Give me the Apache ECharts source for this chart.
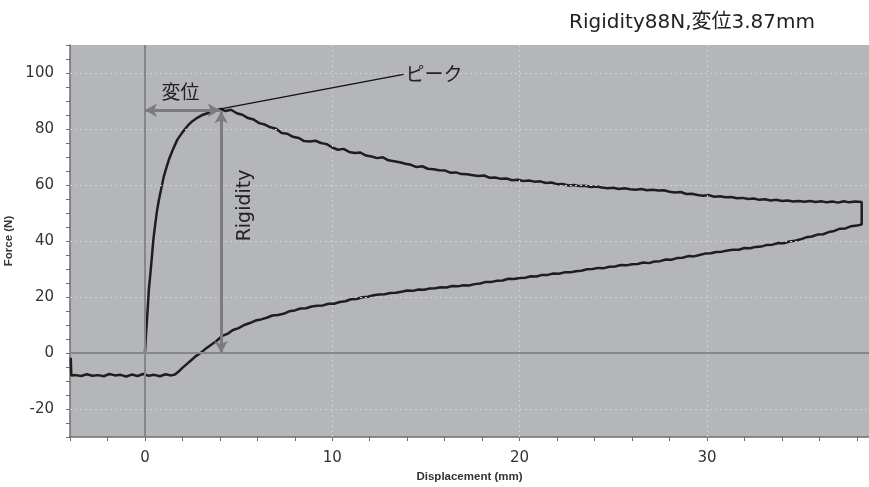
<!DOCTYPE html>
<html>
<head>
<meta charset="utf-8">
<script src="https://cdn.jsdelivr.net/npm/echarts@6/dist/echarts.min.js"></script>
<style>
html,body{margin:0;padding:0;background:#fff;}
#chart{width:869px;height:487px;}
</style>
</head>
<body>
<div id="chart"></div>
<script>
// ---- data (Displacement mm, Force N) ----
const risingCurve = [
  [0,0],[0.05,6],[0.1,11],[0.15,16],[0.21,22.7],[0.3,29],[0.38,35],[0.45,40.5],[0.55,46],[0.65,51],
  [0.75,54.8],[0.88,59],[1.01,63.1],[1.15,66.3],[1.28,69.1],[1.5,72.8],[1.73,76.2],[2.0,78.8],[2.26,81],
  [2.5,82.6],[2.79,84],[3.1,85.1],[3.5,86],[3.8,86.6],[4.04,87.2]
];
const descendingCurve = [
  [4.3,86.4],[4.6,86.9],[4.9,85.6],[5.2,85.1],[5.5,83.9],[5.8,83.4],[6.1,82.1],[6.4,81.6],[6.7,80.6],[7.0,80.1],
  [7.3,78.6],[7.6,78.3],[7.9,77.2],[8.2,76.8],[8.5,75.7],[8.8,75.5],[9.1,75.8],[9.4,75.0],[9.7,74.6],[10.0,73.4],
  [10.3,72.6],[10.6,72.9],[10.9,71.8],[11.2,71.4],[11.5,71.6],[11.8,70.5],[12.1,70.2],[12.4,69.6],[12.7,69.9],[13.0,68.8],
  [13.3,68.5],[13.6,68.1],[13.9,67.6],[14.2,67.2],[14.5,66.4],[14.8,66.7],[15.1,65.8],[15.4,65.6],[15.7,65.3],[16.0,65.2],
  [16.3,64.4],[16.6,64.5],[16.9,63.9],[17.2,63.8],[17.5,63.5],[17.8,63.2],[18.1,63.4],[18.4,62.6],[18.7,62.7],[19.0,62.2],
  [19.3,62.3],[19.6,61.7],[19.9,61.9],[20.2,61.4],[20.5,61.6],[20.8,61.2],[21.1,61.3],[21.4,60.7],[21.7,60.9],[22.0,60.3],
  [22.3,60.4],[22.6,59.8],[22.9,60.0],[23.2,59.6],[23.5,59.7],[23.8,59.3],[24.1,59.5],[24.4,59.1],[24.7,58.8],[25.0,59.0],
  [25.3,58.6],[25.6,58.8],[25.9,58.5],[26.2,58.3],[26.5,58.6],[26.8,58.1],[27.1,58.3],[27.4,58.0],[27.7,58.1],[28.0,57.6],
  [28.3,57.3],[28.6,57.5],[28.9,56.8],[29.2,56.9],[29.5,56.4],[29.8,56.2],[30.1,56.4],[30.4,55.8],[30.7,56.0],[31.0,55.6],
  [31.3,55.7],[31.6,55.3],[31.9,55.4],[32.2,55.0],[32.5,55.2],[32.8,54.7],[33.1,54.9],[33.4,54.5],[33.7,54.7],[34.0,54.3],
  [34.3,54.5],[34.6,54.1],[34.9,54.3],[35.2,54.0],[35.5,54.3],[35.8,53.9],[36.1,54.2],[36.4,53.8],[36.7,54.1],[37.0,53.7],
  [37.3,54.2],[37.6,53.8],[37.9,54.1],[38.26,53.9]
];
const returnCurve = [
  [38.26,45.9],[38.0,45.5],[37.7,45.3],[37.4,44.5],[37.1,44.4],[36.8,43.6],[36.5,43.2],[36.2,42.4],[35.9,42.3],[35.6,41.6],
  [35.3,41.3],[35.0,40.6],[34.7,40.1],[34.4,39.8],[34.1,39.2],[33.8,39.3],[33.5,38.7],[33.2,38.6],[32.9,38.0],[32.6,37.9],
  [32.3,37.4],[32.0,37.5],[31.7,36.9],[31.4,36.9],[31.1,36.6],[30.8,36.2],[30.5,36.1],[30.2,35.6],[29.9,35.5],[29.6,35.0],
  [29.3,34.5],[29.0,34.6],[28.7,34.0],[28.4,33.9],[28.1,33.3],[27.8,33.4],[27.5,32.8],[27.2,32.7],[26.9,32.1],[26.6,32.3],
  [26.3,31.8],[26.0,31.7],[25.7,31.3],[25.4,31.4],[25.1,30.9],[24.8,30.8],[24.5,30.3],[24.2,30.4],[23.9,30.0],[23.6,29.9],
  [23.3,29.4],[23.0,29.2],[22.7,28.8],[22.4,28.8],[22.1,28.3],[21.8,28.4],[21.5,27.9],[21.2,27.9],[20.9,27.3],[20.6,27.4],
  [20.3,26.9],[20.0,26.8],[19.7,26.4],[19.4,26.5],[19.1,25.9],[18.8,25.8],[18.5,25.4],[18.2,25.4],[17.9,24.8],[17.6,24.6],
  [17.3,24.1],[17.0,24.2],[16.7,23.8],[16.4,23.9],[16.1,23.4],[15.8,23.5],[15.5,23.1],[15.2,23.0],[14.9,22.6],[14.6,22.7],
  [14.3,22.2],[14.0,22.3],[13.7,21.9],[13.4,21.5],[13.1,21.4],[12.8,21.0],[12.5,20.9],[12.2,20.6],[11.9,20.1],[11.6,19.9],
  [11.3,19.3],[11.0,19.2],[10.7,18.5],[10.4,18.2],[10.1,17.6],[9.8,17.6],[9.5,17.0],[9.2,16.9],[8.9,16.6],[8.6,16.0],
  [8.3,15.9],[8.0,15.2],[7.7,14.9],[7.4,14.0],[7.1,13.6],[6.8,13.4],[6.5,12.6],[6.2,12.0],[5.9,11.6],[5.6,10.7],
  [5.3,10.0],[5.0,8.9],[4.7,8.2],[4.4,6.8],[4.1,6.0],[3.8,4.2],[3.5,2.8],[3.2,1.3],[2.97,0.0],[2.7,-1.2],
  [2.5,-2.4],[2.26,-3.8],[2.0,-5.3],[1.8,-6.6],[1.6,-7.7],[1.4,-8.0],[1.1,-7.6],[0.8,-8.3],[0.5,-7.8],[0.2,-8.1],
  [-0.1,-7.5],[-0.4,-8.2],[-0.7,-7.7],[-1.0,-8.4],[-1.3,-7.8],[-1.6,-8.0],[-1.9,-7.5],[-2.2,-8.3],[-2.5,-7.9],[-2.8,-8.1],
  [-3.1,-7.6],[-3.4,-8.2],[-3.7,-7.9],[-3.93,-8.0],[-3.96,-1.7]
];
const xLabelValues = [0, 10, 20, 30];
const yLabelValues = [-20, 0, 20, 40, 60, 80, 100];
const xGridValues = [10, 20, 30];
const yGridValues = [-20, 20, 40, 60, 80, 100];
// annotations
const peakPoint = [4.04, 87.2];
const peakLabelEnd = [13.8, 99.5];
const dispArrow = [[0, 86.7], [4.0, 86.7]];
const rigidityArrow = [[4.07, 86.3], [4.07, 0]];
const dispTextAt = [1.9, 93.4];
const rigidityTextAt = [5.35, 52.7];
const titleText = 'Rigidity88N,変位3.87mm';

const forceCurve = risingCurve.concat(descendingCurve, returnCurve);

const chart = echarts.init(document.getElementById('chart'), null, {renderer: 'canvas'});
const axisColor = '#6e6e6e';
const option = {
  animation: false,
  backgroundColor: '#ffffff',
  title: {
    text: titleText, right: 49, top: 8,
    textStyle: {fontSize: 20, fontWeight: 'normal', color: '#222', fontFamily: 'DejaVu Sans, Noto Sans CJK JP, sans-serif'}
  },
  grid: {left: 70, right: 0, top: 45, bottom: 50, show: true, backgroundColor: '#b5b6ba', borderWidth: 0,
    containLabel: false, outerBoundsMode: 'none'},
  xAxis: {
    type: 'value', min: -4, max: 38.65, interval: 2,
    name: 'Displacement (mm)', nameLocation: 'middle', nameGap: 33,
    nameTextStyle: {fontSize: 11.5, fontWeight: 'bold', color: '#333', fontFamily: 'Liberation Sans, Arial, sans-serif'},
    axisLine: {show: true, onZero: false, lineStyle: {color: axisColor, width: 1.5}},
    axisTick: {show: true, length: 4, lineStyle: {color: axisColor}},
    axisLabel: {margin: 14, fontSize: 15, color: '#333', fontFamily: 'DejaVu Sans, sans-serif',
      formatter: v => xLabelValues.indexOf(Math.round(v * 100) / 100) >= 0 ? String(v) : ''},
    splitLine: {show: false}
  },
  yAxis: {
    type: 'value', min: -30, max: 110, interval: 5,
    name: 'Force (N)', nameLocation: 'middle', nameGap: 50,
    nameTextStyle: {fontSize: 11.5, fontWeight: 'bold', color: '#333', fontFamily: 'Liberation Sans, Arial, sans-serif'},
    axisLine: {show: true, onZero: false, lineStyle: {color: axisColor, width: 1.5}},
    axisTick: {show: true, length: 4, lineStyle: {color: axisColor}},
    axisLabel: {margin: 16, fontSize: 15, color: '#333', fontFamily: 'DejaVu Sans, sans-serif',
      formatter: v => yLabelValues.indexOf(Math.round(v * 100) / 100) >= 0 ? String(v) : ''},
    splitLine: {show: false}
  },
  series: [
    {
      name: 'grid', type: 'line', data: [], z: 1, silent: true,
      markLine: {
        silent: true, symbol: 'none', label: {show: false}, animation: false,
        lineStyle: {color: '#cfd0d3', type: [2, 3], width: 1},
        data: xGridValues.map(v => ({xAxis: v})).concat(yGridValues.map(v => ({yAxis: v})))
      }
    },
    {
      name: 'zero', type: 'line', data: [], z: 2, silent: true,
      markLine: {
        silent: true, symbol: 'none', label: {show: false}, animation: false,
        lineStyle: {color: '#86878a', type: 'solid', width: 2},
        data: [{xAxis: 0}, {yAxis: 0}]
      }
    },
    {
      name: 'Force', type: 'line', data: forceCurve, showSymbol: false, z: 3,
      lineStyle: {color: '#1e1e1e', width: 2.5}, silent: true
    },
    {
      name: 'annot', type: 'line', data: [], z: 4, silent: true,
      markLine: {
        silent: true, animation: false, precision: 3,
        data: [
          [{coord: dispArrow[0], symbol: 'arrow', symbolSize: [10, 12], lineStyle: {color: '#7c7c7e', width: 3, type: 'solid'}, label: {show: false}},
           {coord: dispArrow[1], symbol: 'arrow', symbolSize: [10, 12]}],
          [{coord: rigidityArrow[0], symbol: 'arrow', symbolSize: [10, 12], lineStyle: {color: '#7c7c7e', width: 3, type: 'solid'}, label: {show: false}},
           {coord: rigidityArrow[1], symbol: 'arrow', symbolSize: [10, 12]}],
          [{coord: peakPoint, symbol: 'none', lineStyle: {color: '#111', width: 1.3, type: 'solid'},
            label: {show: true, position: 'end', formatter: 'ピーク', distance: 2, fontSize: 19, color: '#222',
              fontFamily: 'Noto Sans CJK JP, sans-serif'}},
           {coord: peakLabelEnd, symbol: 'none'}]
        ]
      }
    }
  ]
};
chart.setOption(option);

const p1 = chart.convertToPixel({gridIndex: 0}, dispTextAt);
const p2 = chart.convertToPixel({gridIndex: 0}, rigidityTextAt);
chart.setOption({
  graphic: [
    {type: 'text', x: p1[0], y: p1[1], z: 10,
      style: {text: '変位', fontSize: 19, fill: '#222', align: 'center', verticalAlign: 'middle', fontFamily: 'Noto Sans CJK JP, sans-serif'}},
    {type: 'text', x: p2[0], y: p2[1], rotation: Math.PI / 2, z: 10,
      style: {text: 'Rigidity', fontSize: 19, fill: '#222', align: 'center', verticalAlign: 'middle', fontFamily: 'DejaVu Sans, sans-serif'}}
  ]
});
</script>
</body>
</html>
